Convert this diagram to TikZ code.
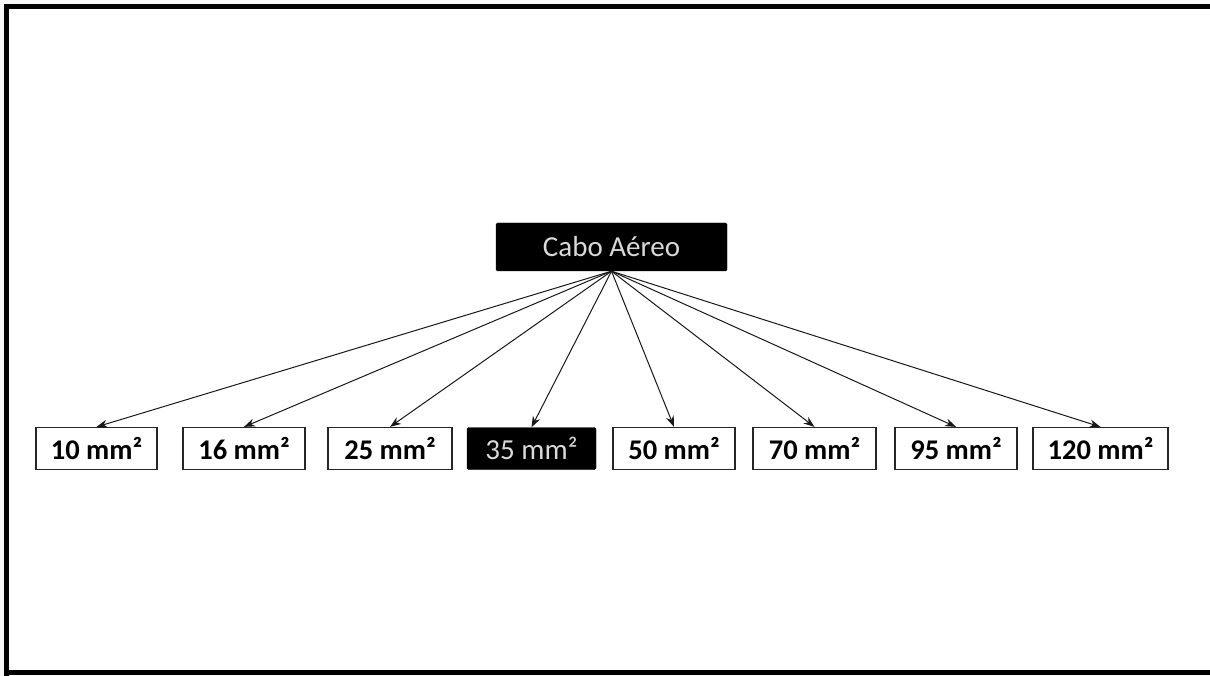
\documentclass[tikz,border=0pt]{standalone}
\usepackage{fontspec}
\setmainfont{Carlito}
\usetikzlibrary{arrows.meta}
\tikzset{
  sizebox/.style={draw=black!85, line width=1.2pt, fill=white, inner sep=0pt,
    minimum height=42pt, font=\fontsize{28.5}{30}\selectfont\bfseries, text=black},
  darkbox/.style={draw=black, fill=black, inner sep=0pt, rounded corners=1.5pt,
    text=black!15, font=\fontsize{29}{30}\selectfont},
  link/.style={line width=1pt, draw=black!90, -{Stealth[length=11pt,width=8pt]}},
  frame/.style={line width=5pt, draw=black}
}
\begin{document}
\begin{tikzpicture}[x=1pt,y=-1pt]
\useasboundingbox[fill=white!97!black] (0,0) rectangle (1210,676);
\fill[white] (9,9) rectangle (1210,670);
\draw[frame] (6.5,676) -- (6.5,6.5) -- (1210,6.5);
\draw[frame] (6.5,672.5) -- (1210,672.5);
\node[darkbox, minimum width=231pt, minimum height=48pt] (root) at (611.5,247) {Cabo Aéreo};
\node[sizebox, minimum width=121pt] (a) at (96.5,448.5) {10 mm²};
\node[sizebox, minimum width=122pt] (b) at (244,448.5) {16 mm²};
\node[sizebox, minimum width=124pt] (c) at (390,448.5) {25 mm²};
\node[darkbox, minimum width=129pt, minimum height=42pt] (d) at (531.5,448.5) {35 mm²};
\node[sizebox, minimum width=122pt] (e) at (674,448.5) {50 mm²};
\node[sizebox, minimum width=123pt] (f) at (814.5,448.5) {70 mm²};
\node[sizebox, minimum width=122pt] (g) at (956,448.5) {95 mm²};
\node[sizebox, minimum width=135pt] (h) at (1100.5,448.5) {120 mm²};
\foreach \n in {a,b,c,d,e,f,g,h}
  \draw[link] (root.south) -- (\n.north);
\end{tikzpicture}
\end{document}
